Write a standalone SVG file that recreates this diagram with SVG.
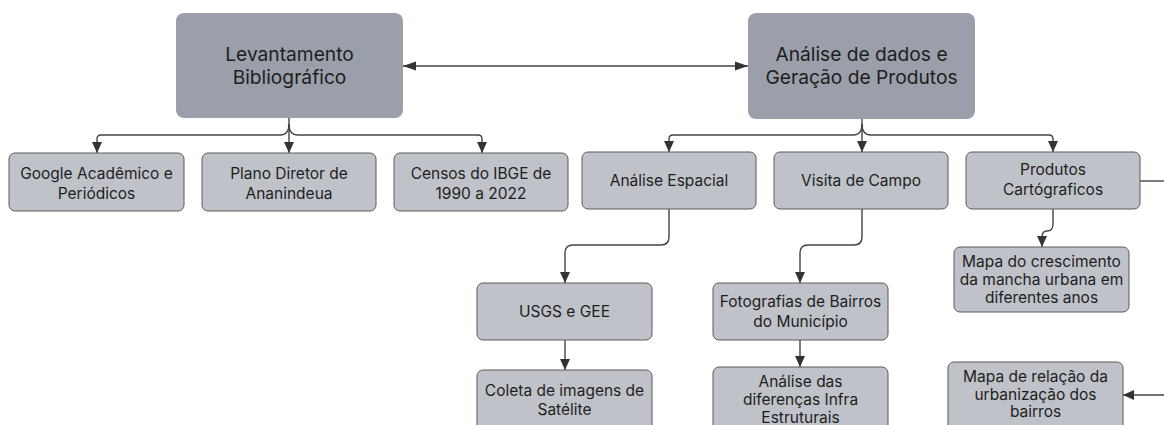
<svg xmlns="http://www.w3.org/2000/svg" width="1164" height="425" viewBox="0 0 1164 425">
<style>
.top{fill:#9a9fa9;stroke:none}
.box{fill:#bfc2c8;stroke:#5a5a5a;stroke-width:1}
text{font-family:Inter,"Noto Sans","Liberation Sans",sans-serif;fill:#1e1e1e;text-anchor:middle}
.t1{font-size:19.2px}
.t2{font-size:15.5px}
.c{fill:none;stroke:#444;stroke-width:1.4}
</style>
<defs>
<marker id="a" markerUnits="userSpaceOnUse" markerWidth="12" markerHeight="10" refX="11" refY="5" orient="auto-start-reverse"><path d="M0,0 L11,5 L0,10 z" fill="#333"/></marker>
<marker id="b" markerUnits="userSpaceOnUse" markerWidth="14" markerHeight="10" refX="13" refY="5" orient="auto-start-reverse"><path d="M0,0.5 L13,5 L0,9.5 z" fill="#333"/></marker>
</defs>
<g id="connectors">
<path class="c" d="M403,66 H748" marker-start="url(#b)" marker-end="url(#b)"/>
<path class="c" d="M289,118 V153" marker-end="url(#a)"/>
<path class="c" d="M289,124 Q289,135 280,135 H101 Q97,135 97,139 V153" marker-end="url(#a)"/>
<path class="c" d="M289,124 Q289,135 298,135 H478 Q482,135 482,139 V153" marker-end="url(#a)"/>
<path class="c" d="M862,119 V152" marker-end="url(#a)"/>
<path class="c" d="M862,124 Q862,135 853,135 H673 Q669,135 669,139 V152" marker-end="url(#a)"/>
<path class="c" d="M862,124 Q862,135 871,135 H1049 Q1053,135 1053,139 V152" marker-end="url(#a)"/>
<path class="c" d="M669,209 V237 Q669,245 661,245 H573 Q565,245 565,253 V283" marker-end="url(#a)"/>
<path class="c" d="M862,209 V237 Q862,245 854,245 H808 Q800,245 800,253 V283" marker-end="url(#a)"/>
<path class="c" d="M1053,209 V224 Q1053,231 1047,231 Q1042,231 1042,237 V247" marker-end="url(#a)"/>
<path class="c" d="M565,340 V370" marker-end="url(#a)"/>
<path class="c" d="M800,340 V367" marker-end="url(#a)"/>
<path class="c" d="M1140,181 H1164"/>
<path class="c" d="M1164,395 H1123" marker-end="url(#a)"/>
</g>
<g id="levantamento"><rect class="top" x="176" y="13" width="227" height="105" rx="8"/><text class="t1" x="289.5" y="61">Levantamento</text><text class="t1" x="289.5" y="84">Bibliográfico</text></g>
<g id="analise-dados"><rect class="top" x="748" y="13" width="227" height="106" rx="8"/><text class="t1" x="861.5" y="61">Análise de dados e</text><text class="t1" x="861.5" y="84">Geração de Produtos</text></g>
<g id="google"><rect class="box" x="9" y="153" width="175" height="58" rx="6"/><text class="t2" x="96.5" y="179">Google Acadêmico e</text><text class="t2" x="96.5" y="199">Periódicos</text></g>
<g id="plano"><rect class="box" x="202" y="153" width="174" height="58" rx="6"/><text class="t2" x="289" y="179">Plano Diretor de</text><text class="t2" x="289" y="199">Ananindeua</text></g>
<g id="censos"><rect class="box" x="394" y="153" width="174" height="58" rx="6"/><text class="t2" x="481" y="179">Censos do IBGE de</text><text class="t2" x="481" y="199">1990 a 2022</text></g>
<g id="analise-espacial"><rect class="box" x="582" y="152" width="174" height="57" rx="6"/><text class="t2" x="669" y="186">Análise Espacial</text></g>
<g id="visita"><rect class="box" x="774" y="152" width="174" height="57" rx="6"/><text class="t2" x="861" y="186">Visita de Campo</text></g>
<g id="produtos"><rect class="box" x="966" y="152" width="174" height="57" rx="6"/><text class="t2" x="1053" y="175">Produtos</text><text class="t2" x="1053" y="195">Cartógraficos</text></g>
<g id="usgs"><rect class="box" x="477" y="283" width="175" height="57" rx="6"/><text class="t2" x="564.5" y="317">USGS e GEE</text></g>
<g id="coleta"><rect class="box" x="477" y="370" width="175" height="70" rx="6"/><text class="t2" x="564.5" y="396">Coleta de imagens de</text><text class="t2" x="564.5" y="415">Satélite</text></g>
<g id="fotografias"><rect class="box" x="713" y="283" width="175" height="57" rx="6"/><text class="t2" x="800.5" y="307">Fotografias de Bairros</text><text class="t2" x="800.5" y="327">do Município</text></g>
<g id="diferencas"><rect class="box" x="713" y="367" width="175" height="70" rx="6"/><text class="t2" x="800.5" y="387">Análise das</text><text class="t2" x="800.5" y="405">diferenças Infra</text><text class="t2" x="800.5" y="423">Estruturais</text></g>
<g id="mapa-crescimento"><rect class="box" x="954" y="247" width="175" height="65" rx="6"/><text class="t2" x="1041.5" y="267">Mapa do crescimento</text><text class="t2" x="1041.5" y="285">da mancha urbana em</text><text class="t2" x="1041.5" y="303">diferentes anos</text></g>
<g id="mapa-relacao"><rect class="box" x="948" y="362" width="175" height="75" rx="6"/><text class="t2" x="1035.5" y="382">Mapa de relação da</text><text class="t2" x="1035.5" y="400">urbanização dos</text><text class="t2" x="1035.5" y="417">bairros</text></g>
</svg>
